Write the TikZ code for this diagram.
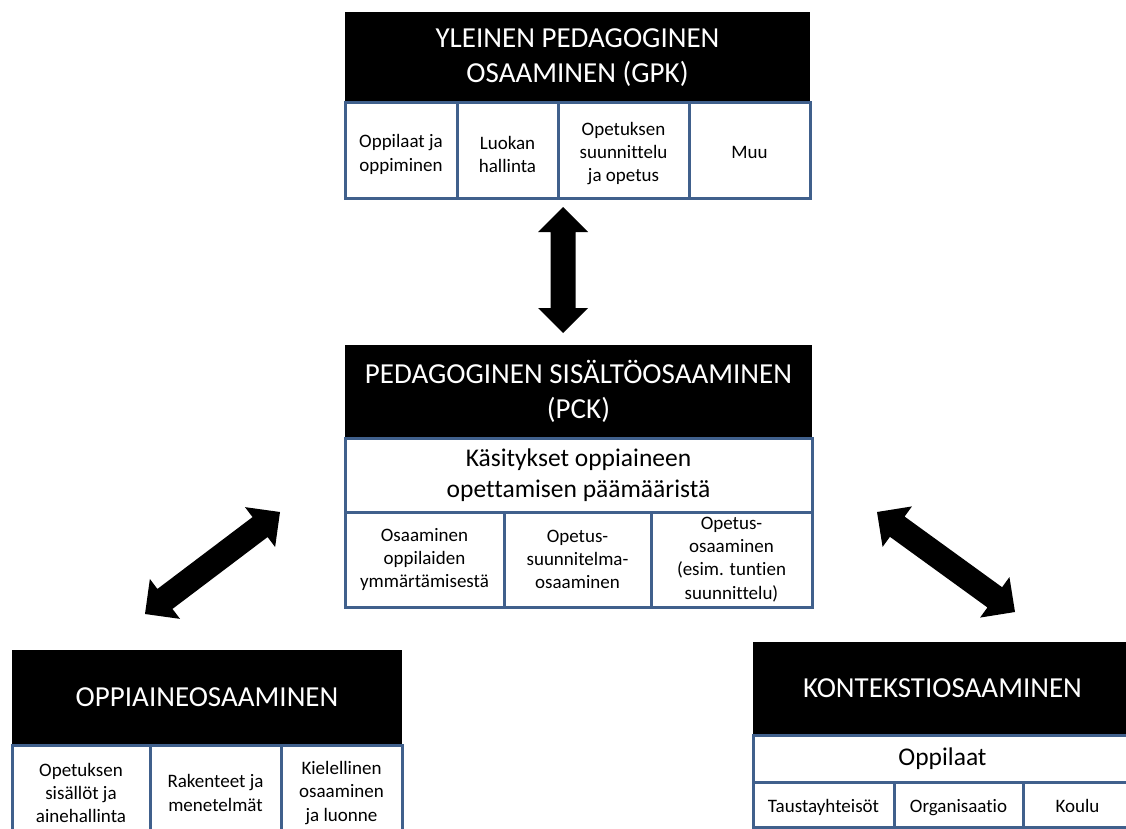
\documentclass[tikz,border=0pt]{standalone}
\usepackage{fontspec}
\setmainfont{Carlito}[Ligatures={NoCommon}]
\usetikzlibrary{calc}
\definecolor{bordercol}{RGB}{64,96,140}
\newcommand{\hdrfont}{\fontsize{29}{35}\selectfont}
\newcommand{\subfont}{\fontsize{25.5}{31}\selectfont}
\newcommand{\cellfont}{\fontsize{19}{23.2}\selectfont}
\newcommand{\fatarrow}[2]{%
  \coordinate (ha) at ($(#1)!25pt!(#2)$);
  \coordinate (hb) at ($(#2)!25pt!(#1)$);
  \fill[black] (#1) -- ($(ha)!25pt!90:(#2)$) -- ($(ha)!12.5pt!90:(#2)$)
    -- ($(hb)!12.5pt!-90:(#1)$) -- ($(hb)!25pt!-90:(#1)$) -- (#2)
    -- ($(hb)!25pt!90:(#1)$) -- ($(hb)!12.5pt!90:(#1)$)
    -- ($(ha)!12.5pt!-90:(#2)$) -- ($(ha)!25pt!-90:(#2)$) -- cycle;}
\tikzset{
  hdr/.style 2 args={fill=black, text=white, align=center, font=\hdrfont,
    inner sep=0pt, minimum width=#1, minimum height=#2},
  cellbox/.style 2 args={fill=white, draw=bordercol, line width=3pt, align=center,
    font=\cellfont, inner sep=0pt, minimum width=#1, minimum height=#2},
  subbox/.style 2 args={fill=white, draw=bordercol, line width=3pt, align=center,
    font=\subfont, inner sep=0pt, minimum width=#1, minimum height=#2},
  celltext/.style={align=center, font=\cellfont, inner sep=0pt},
  oneline/.style={text height=19pt, text depth=2.5pt},
}
\begin{document}
\begin{tikzpicture}[x=1pt,y=-1pt]
\path[use as bounding box] (0,0) rectangle (1126,829);
\clip (0,0) rectangle (1126,829);
\fill[white] (0,0) rectangle (1126,829);

% Top box (GPK)
\node[hdr={465pt}{91pt}] (gpk) at (577.5,57.5) {YLEINEN PEDAGOGINEN\\OSAAMINEN (GPK)};
\node[cellbox={112pt}{95pt}] (g1) at (401,150.5) {};
\node[cellbox={101pt}{95pt}] (g2) at (507.5,150.5) {};
\node[cellbox={131pt}{95pt}] (g3) at (623.5,150.5) {};
\node[cellbox={121pt}{95pt}, oneline] (g4) at (749.5,150.5) {Muu};
\node[celltext] (g1t) at ([yshift=-4pt]g1.center) {Oppilaat ja\\oppiminen};
\node[celltext] (g2t) at ([yshift=-4pt]g2.center) {Luokan\\hallinta};
\node[celltext] (g3t) at ([yshift=-3pt]g3.center) {Opetuksen\\suunnittelu\\ja opetus};

% Middle box (PCK)
\node[hdr={467pt}{93pt}] (pck) at (578.5,391.5) {PEDAGOGINEN SISÄLTÖOSAAMINEN\\(PCK)};
\node[subbox={467pt}{74pt}] (p0) at (578.5,475) {Käsitykset oppiaineen\\opettamisen päämääristä};
\node[cellbox={159pt}{95pt}] (p1) at (424.5,559.5) {Osaaminen\\oppilaiden\\ymmärtämisestä};
\node[cellbox={147pt}{95pt}] (p2) at (577.5,559.5) {Opetus-\\suunnitelma-\\osaaminen};
\node[cellbox={161pt}{95pt}] (p3) at (731.5,559.5) {Opetus-\\osaaminen\\(esim. tuntien\\suunnittelu)};

% Bottom left (Oppiaineosaaminen)
\node[hdr={390pt}{95pt}] (oa) at (207,697.5) {OPPIAINEOSAAMINEN};
\node[cellbox={138pt}{96pt}] (o1) at (81,793) {Opetuksen\\sisällöt ja\\ainehallinta};
\node[cellbox={131pt}{96pt}] (o2) at (215.5,793) {Rakenteet ja\\menetelmät};
\node[cellbox={121pt}{96pt}] (o3) at (341.5,793) {Kielellinen\\osaaminen\\ja luonne};

% Bottom right (Kontekstiosaaminen)
\node[hdr={379pt}{93pt}] (ko) at (942.5,688.5) {KONTEKSTIOSAAMINEN};
\node[subbox={379pt}{47pt}] (k0) at (942.5,758.5) {Oppilaat};
\node[cellbox={141pt}{45pt}, oneline] (k1) at (823.5,804.5) {Taustayhteisöt};
\node[cellbox={129pt}{45pt}, oneline] (k2) at (958.5,804.5) {Organisaatio};
\node[cellbox={109pt}{45pt}, oneline] (k3) at (1077.5,804.5) {Koulu};

% Arrows
\coordinate (a1) at (563,207);
\coordinate (a2) at (563,333);
\coordinate (b1) at (280,512);
\coordinate (b2) at (145,614);
\coordinate (c1) at (877,512);
\coordinate (c2) at (1015,612);
\fatarrow{a1}{a2}
\fatarrow{b1}{b2}
\fatarrow{c1}{c2}
\end{tikzpicture}
\end{document}
